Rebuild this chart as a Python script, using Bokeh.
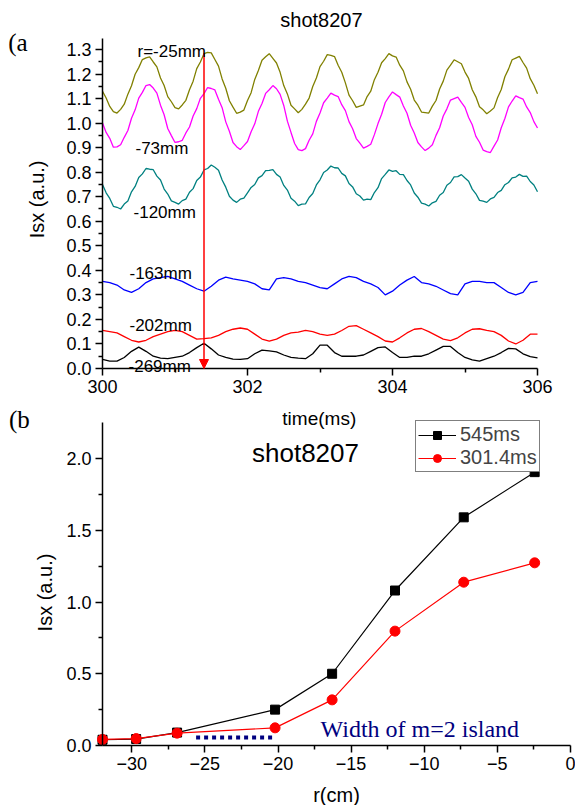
import math
from bokeh.plotting import figure
from bokeh.models import (Range1d, FixedTicker, Label, Arrow, NormalHead, Legend,
                          LegendItem, PrintfTickFormatter, LinearAxis)
from bokeh.embed import file_html
from bokeh.resources import INLINE

# ---------------- data: panel (a) ----------------
# strong-oscillation channels, read every 0.05 ms
isx_r25 = [1.130, 1.102, 1.068, 1.047, 1.041, 1.056, 1.077, 1.118, 1.152, 1.199,
           1.226, 1.259, 1.266, 1.270, 1.249, 1.229, 1.184, 1.153, 1.108, 1.087,
           1.063, 1.058, 1.074, 1.093, 1.136, 1.171, 1.222, 1.249, 1.283, 1.288,
           1.286, 1.259, 1.232, 1.180, 1.142, 1.091, 1.065, 1.040, 1.045, 1.053,
           1.092, 1.124, 1.178, 1.214, 1.256, 1.270, 1.283, 1.264, 1.245, 1.207,
           1.153, 1.119, 1.073, 1.058, 1.042, 1.056, 1.077, 1.102, 1.149, 1.184,
           1.230, 1.252, 1.279, 1.276, 1.271, 1.236, 1.207, 1.164, 1.114, 1.091,
           1.064, 1.069, 1.074, 1.108, 1.130, 1.177, 1.207, 1.246, 1.263, 1.283,
           1.274, 1.269, 1.236, 1.213, 1.168, 1.138, 1.094, 1.073, 1.045, 1.043,
           1.041, 1.069, 1.092, 1.139, 1.171, 1.216, 1.236, 1.258, 1.250, 1.242,
           1.208, 1.182, 1.136, 1.107, 1.067, 1.054, 1.038, 1.049, 1.062, 1.104,
           1.137, 1.189, 1.220, 1.258, 1.265, 1.272, 1.247, 1.224, 1.181, 1.154, 1.120]
isx_r73 = [1.000, 0.962, 0.938, 0.902, 0.903, 0.912, 0.942, 0.970, 1.020, 1.054,
           1.102, 1.125, 1.153, 1.157, 1.143, 1.122, 1.073, 1.034, 0.978, 0.949,
           0.921, 0.924, 0.930, 0.960, 0.984, 1.029, 1.059, 1.101, 1.120, 1.145,
           1.141, 1.135, 1.097, 1.063, 1.005, 0.967, 0.921, 0.904, 0.892, 0.908,
           0.925, 0.965, 0.997, 1.048, 1.080, 1.121, 1.136, 1.153, 1.140, 1.117,
           1.072, 1.008, 0.962, 0.917, 0.892, 0.888, 0.896, 0.930, 0.956, 1.007,
           1.041, 1.083, 1.102, 1.122, 1.114, 1.108, 1.075, 1.051, 1.006, 0.977,
           0.937, 0.918, 0.898, 0.905, 0.914, 0.953, 0.998, 1.036, 1.084, 1.107,
           1.127, 1.116, 1.106, 1.070, 1.040, 0.991, 0.960, 0.921, 0.903, 0.888,
           0.898, 0.912, 0.950, 0.981, 1.029, 1.058, 1.094, 1.100, 1.106, 1.084,
           1.064, 1.023, 0.993, 0.946, 0.922, 0.890, 0.884, 0.880, 0.906, 0.931,
           0.981, 1.019, 1.066, 1.090, 1.111, 1.104, 1.098, 1.066, 1.043, 1.006, 0.980]
isx_r120 = [0.750, 0.716, 0.693, 0.661, 0.657, 0.650, 0.670, 0.683, 0.720, 0.742,
            0.778, 0.793, 0.815, 0.812, 0.810, 0.784, 0.768, 0.731, 0.711, 0.683,
            0.677, 0.670, 0.684, 0.690, 0.718, 0.733, 0.766, 0.780, 0.809, 0.815,
            0.829, 0.820, 0.808, 0.768, 0.739, 0.702, 0.686, 0.677, 0.690, 0.694,
            0.716, 0.738, 0.750, 0.777, 0.786, 0.806, 0.807, 0.810, 0.791, 0.780,
            0.746, 0.727, 0.694, 0.682, 0.664, 0.670, 0.671, 0.697, 0.713, 0.748,
            0.769, 0.799, 0.809, 0.825, 0.818, 0.817, 0.795, 0.785, 0.754, 0.740,
            0.712, 0.703, 0.686, 0.690, 0.688, 0.717, 0.737, 0.774, 0.791, 0.809,
            0.803, 0.806, 0.791, 0.790, 0.766, 0.748, 0.715, 0.698, 0.674, 0.670,
            0.662, 0.675, 0.681, 0.706, 0.717, 0.747, 0.758, 0.781, 0.782, 0.790,
            0.776, 0.763, 0.731, 0.712, 0.685, 0.682, 0.677, 0.691, 0.697, 0.717,
            0.726, 0.749, 0.758, 0.777, 0.780, 0.791, 0.783, 0.784, 0.762, 0.748, 0.720]
# weak-oscillation channels, read every 0.1 ms
isx_r163 = [0.355, 0.35, 0.34, 0.32, 0.31, 0.325, 0.35, 0.365, 0.37, 0.375,
            0.365, 0.355, 0.34, 0.325, 0.315, 0.335, 0.36, 0.372, 0.365, 0.36,
            0.355, 0.345, 0.325, 0.32, 0.365, 0.37, 0.365, 0.355, 0.35, 0.34,
            0.33, 0.325, 0.345, 0.365, 0.375, 0.37, 0.355, 0.345, 0.33, 0.30,
            0.315, 0.34, 0.36, 0.375, 0.35, 0.345, 0.335, 0.32, 0.305, 0.30,
            0.345, 0.355, 0.355, 0.35, 0.35, 0.33, 0.31, 0.30, 0.31, 0.35, 0.355]
isx_r202 = [0.155, 0.15, 0.145, 0.13, 0.115, 0.108, 0.115, 0.13, 0.14, 0.15,
            0.155, 0.15, 0.135, 0.12, 0.122, 0.125, 0.135, 0.15, 0.16, 0.165,
            0.16, 0.14, 0.12, 0.112, 0.12, 0.135, 0.145, 0.148, 0.155, 0.15,
            0.14, 0.135, 0.14, 0.155, 0.172, 0.175, 0.16, 0.145, 0.13, 0.112,
            0.108, 0.125, 0.145, 0.16, 0.163, 0.15, 0.135, 0.12, 0.114, 0.125,
            0.145, 0.16, 0.162, 0.155, 0.15, 0.135, 0.112, 0.10, 0.115, 0.14, 0.14]
isx_r269 = [0.037, 0.03, 0.03, 0.045, 0.07, 0.087, 0.07, 0.05, 0.042, 0.04,
            0.045, 0.05, 0.065, 0.085, 0.103, 0.08, 0.055, 0.045, 0.038, 0.037,
            0.04, 0.06, 0.075, 0.072, 0.068, 0.055, 0.045, 0.042, 0.04, 0.06,
            0.095, 0.095, 0.065, 0.05, 0.05, 0.05, 0.055, 0.07, 0.085, 0.088,
            0.065, 0.045, 0.045, 0.05, 0.05, 0.06, 0.075, 0.09, 0.09, 0.065,
            0.045, 0.035, 0.03, 0.04, 0.05, 0.065, 0.082, 0.08, 0.06, 0.048, 0.043]

time_fine = [round(300 + 0.05 * i, 2) for i in range(len(isx_r25))]
time_coarse = [round(300 + 0.1 * i, 1) for i in range(len(isx_r163))]

trace_names = ["r=-25mm", "-73mm", "-120mm", "-163mm", "-202mm", "-269mm"]
trace_colors = ["#808000", "#FF00FF", "#008080", "#0000FF", "#FF0000", "#000000"]
traces = [(time_fine, isx_r25), (time_fine, isx_r73), (time_fine, isx_r120),
          (time_coarse, isx_r163), (time_coarse, isx_r202), (time_coarse, isx_r269)]
marker_time = 301.4

time_ticks = [300, 302, 304, 306]
time_minor = [301, 303, 305]
isx_a_ticks = [round(0.1 * i, 1) for i in range(14)]
isx_a_minor = [round(0.05 + 0.1 * i, 2) for i in range(13)]

# ---------------- data: panel (b) ----------------
r_cm = [-32.0, -29.7, -26.9, -20.2, -16.3, -12.0, -7.3, -2.45]
isx_545 = [0.04, 0.045, 0.09, 0.25, 0.50, 1.08, 1.59, 1.905]
isx_3014 = [0.042, 0.048, 0.086, 0.123, 0.318, 0.797, 1.138, 1.273]
island_r = [-25.6, -20.2]
island_y = [0.055, 0.055]

r_ticks = [-30, -25, -20, -15, -10, -5, 0]
r_minor = [-27.5, -22.5, -17.5, -12.5, -7.5, -2.5]
isx_b_ticks = [0.0, 0.5, 1.0, 1.5, 2.0]
isx_b_minor = [0.25, 0.75, 1.25, 1.75]

SANS = "Liberation Sans"
SERIF = "Liberation Serif"

W, H = 575, 805
# Panel (a): x: 300 ms at px 102, 72.5 px/ms ; y: 0 at px 368, 245.4 px/unit
# Panel (b): x: -32 cm at px 102, 14.625 px/cm ; y: 0 at px 745, 143.5 px/unit
xa = Range1d(300 - 102 / 72.5, 300 + (W - 102) / 72.5)
ya = Range1d((368 - H) / 245.4, 368 / 245.4)
xb = Range1d(-32 - 102 / 14.625, -32 + (W - 102) / 14.625)
yb = Range1d((745 - H) / 143.5, 745 / 143.5)

p = figure(width=W, height=H, x_range=xa, y_range=ya, output_backend="svg",
           toolbar_location=None, x_axis_location=None, y_axis_location=None,
           min_border=0)
p.extra_x_ranges = {"xb": xb}
p.extra_y_ranges = {"yb": yb}
p.grid.visible = False
p.outline_line_color = None


def style_axis(ax):
    ax.axis_line_width = 1.5
    ax.axis_line_color = "black"
    ax.major_tick_line_width = 1.5
    ax.minor_tick_line_width = 1.5
    ax.major_tick_in = 0
    ax.major_tick_out = 7
    ax.minor_tick_in = 0
    ax.minor_tick_out = 4
    ax.major_label_text_font = SANS
    ax.major_label_text_font_size = "18px"
    ax.major_label_text_color = "black"
    ax.major_label_standoff = 4


ax_a_x = LinearAxis(fixed_location=0, bounds=(300, 306),
                    ticker=FixedTicker(ticks=time_ticks, minor_ticks=time_minor))
ax_a_y = LinearAxis(fixed_location=300, bounds=(0, 1.345),
                    ticker=FixedTicker(ticks=isx_a_ticks, minor_ticks=isx_a_minor),
                    formatter=PrintfTickFormatter(format="%.1f"))
ax_b_x = LinearAxis(x_range_name="xb", y_range_name="yb", fixed_location=0, bounds=(-32, 0),
                    ticker=FixedTicker(ticks=r_ticks, minor_ticks=r_minor))
ax_b_y = LinearAxis(x_range_name="xb", y_range_name="yb", fixed_location=-32, bounds=(0, 2.25),
                    ticker=FixedTicker(ticks=isx_b_ticks, minor_ticks=isx_b_minor),
                    formatter=PrintfTickFormatter(format="%.1f"))
for ax in (ax_a_x, ax_a_y, ax_b_x, ax_b_y):
    style_axis(ax)
p.add_layout(ax_a_x, "below")
p.add_layout(ax_b_x, "below")
p.add_layout(ax_a_y, "left")
p.add_layout(ax_b_y, "left")

# ---------------- panel (a) marks ----------------
for (tt, vals), col in zip(traces, trace_colors):
    p.line(tt, vals, line_color=col, line_width=1.3)

p.add_layout(Arrow(end=NormalHead(size=9, fill_color="red", line_color="red", line_width=1),
                   x_start=marker_time, y_start=1.285, x_end=marker_time, y_end=0.0,
                   line_color="red", line_width=1.5))


def lab(x, y, text, font=SANS, size="17px", color="black", align="left", angle=0.0,
        xr="default", yr="default"):
    p.add_layout(Label(x=x, y=y, text=text, text_font=font, text_font_size=size,
                       text_color=color, text_align=align, text_baseline="middle",
                       angle=angle, x_range_name=xr, y_range_name=yr))


label_pos = [(300.483, 1.290), (300.455, 0.8965), (300.428, 0.634),
             (300.372, 0.389), (300.372, 0.177), (300.359, 0.008)]
for name, (lx, ly) in zip(trace_names, label_pos):
    lab(lx, ly, name)

lab(303.02, 1.42, "shot8207", size="20px", align="center")
lab(298.70, 1.328, "(a", font=SERIF, size="25px")
lab(302.99, -0.204, "time(ms)", size="19px", align="center")
lab(299.09, 0.689, "Isx (a.u.)", size="20px", align="center", angle=math.pi / 2)
lab(298.71, -0.208, "(b", font=SERIF, size="25px")

# ---------------- panel (b) marks ----------------
l1 = p.line(r_cm, isx_545, line_color="black", line_width=1.2, x_range_name="xb", y_range_name="yb")
s1 = p.scatter(r_cm, isx_545, marker="square", size=9, fill_color="black", line_color="black",
               x_range_name="xb", y_range_name="yb")
l2 = p.line(r_cm, isx_3014, line_color="red", line_width=1.2, x_range_name="xb", y_range_name="yb")
s2 = p.scatter(r_cm, isx_3014, marker="circle", size=10, fill_color="red", line_color="red",
               x_range_name="xb", y_range_name="yb")
p.line(island_r, island_y, line_color="#000080", line_width=4, line_dash="4 4",
       x_range_name="xb", y_range_name="yb")

legend = Legend(items=[LegendItem(label="545ms", renderers=[l1, s1]),
                       LegendItem(label="301.4ms", renderers=[l2, s2])],
                location=(415, H - 472), border_line_color="black", border_line_width=1,
                background_fill_color="white", background_fill_alpha=1.0,
                label_text_font=SANS, label_text_font_size="20px",
                glyph_width=38, glyph_height=20, label_height=20, label_standoff=4,
                padding=2, spacing=0, margin=0)
p.add_layout(legend)

lab(-18.12, 2.038, "shot8207", size="26px", align="center", xr="xb", yr="yb")
lab(-17.09, 0.115, "Width of m=2 island", font=SERIF, size="24px", color="#000080",
    xr="xb", yr="yb")
lab(-16.0, -0.348, "r(cm)", size="20px", align="center", xr="xb", yr="yb")
lab(-35.9, 1.066, "Isx (a.u.)", size="20px", align="center", angle=math.pi / 2,
    xr="xb", yr="yb")

open("out.html", "w").write(file_html(p, INLINE))
